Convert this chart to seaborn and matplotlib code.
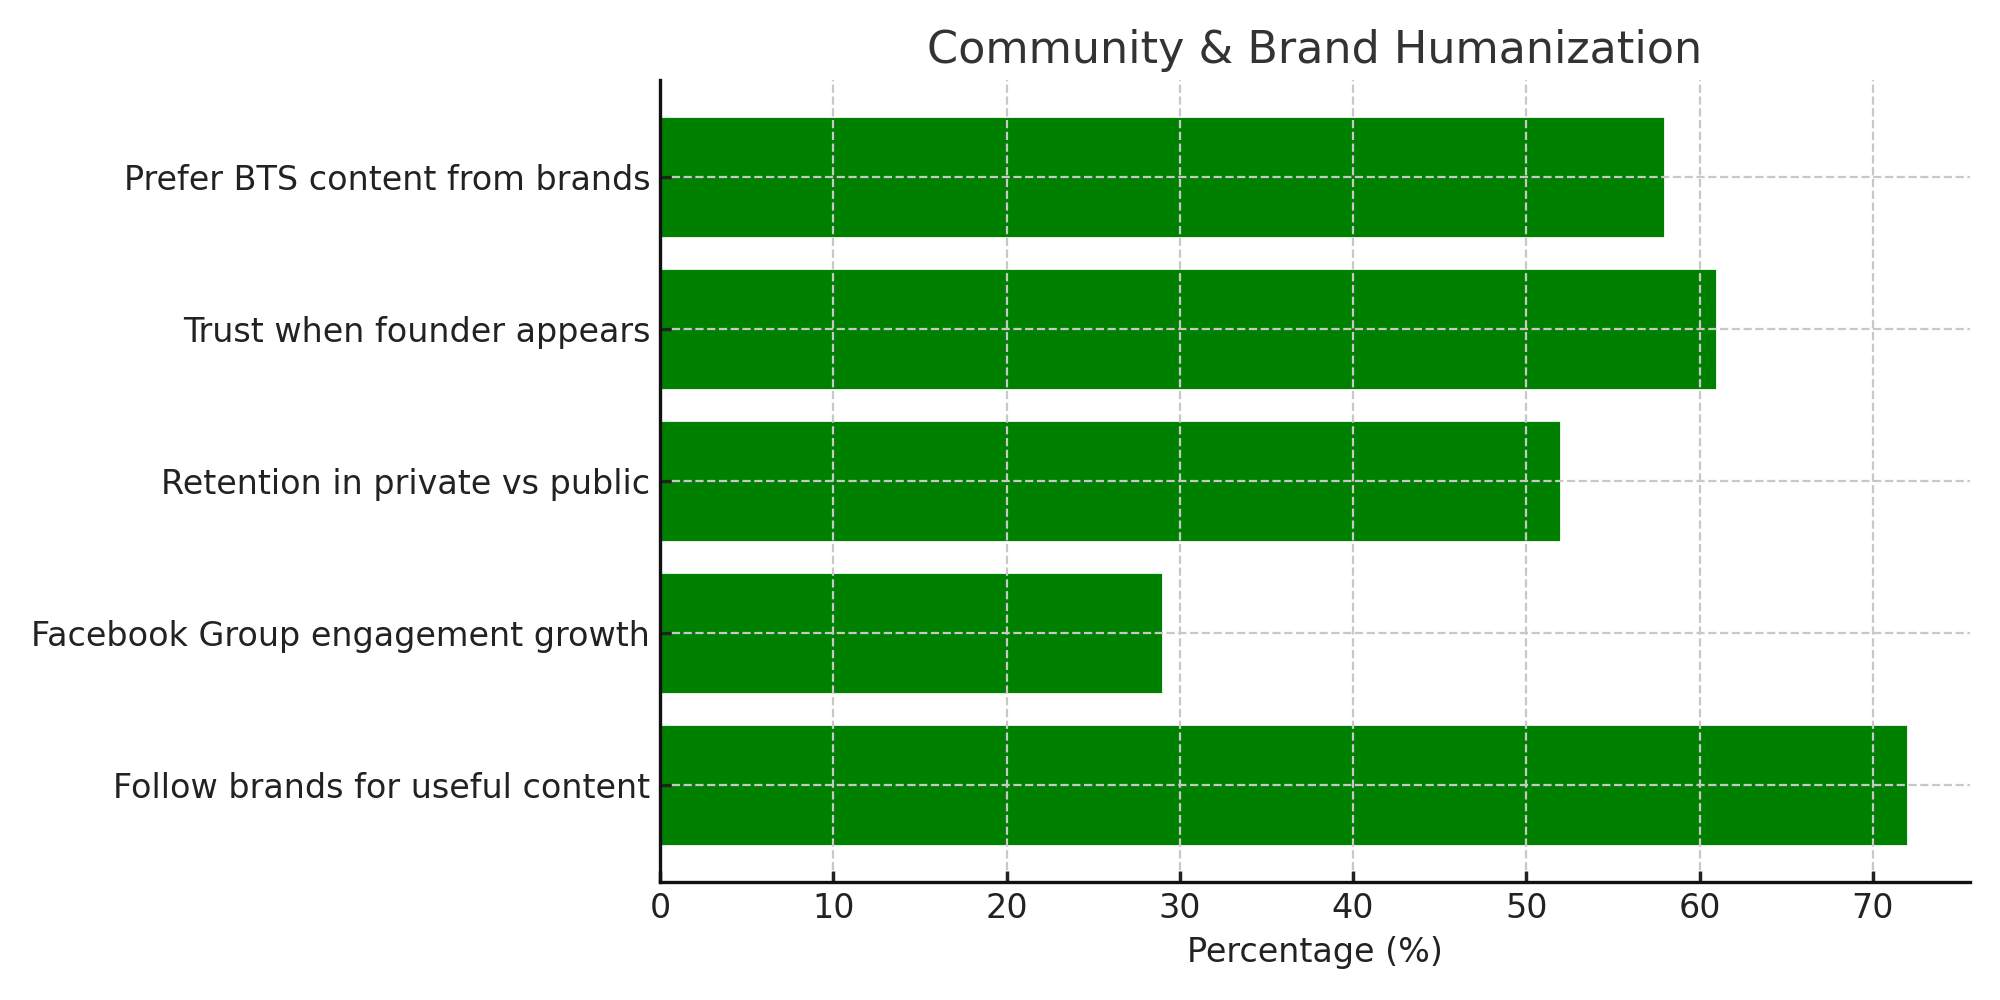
import numpy as np
import pandas as pd
import seaborn as sns
import matplotlib
matplotlib.use("Agg")
import matplotlib.pyplot as plt

# Data (top to bottom as shown)
categories = [
    "Prefer BTS content from brands",
    "Trust when founder appears",
    "Retention in private vs public",
    "Facebook Group engagement growth",
    "Follow brands for useful content",
]
values = [58, 61, 52, 29, 72]

df = pd.DataFrame({"metric": categories, "pct": values})

sns.set_theme(style="whitegrid")
plt.rcParams['font.family'] = ['DejaVu Sans']

fig, ax = plt.subplots(figsize=(10, 5), dpi=200)
sns.barplot(data=df, x="pct", y="metric", color="green", saturation=1,
            width=0.8, ax=ax, orient="h")

n = len(categories)
ax.set_ylim(n - 1 + 0.64, -0.64)
ax.set_xlim(0, max(values) * 1.05)

ax.set_title("Community & Brand Humanization", fontsize=16, color="#333333")
ax.set_xlabel("Percentage (%)", fontsize=12, color="#222222")
ax.set_ylabel("")
ax.tick_params(axis="both", labelsize=12, direction="in", length=4,
               colors="#222222", left=True, bottom=True)
ax.grid(True, linestyle="--", color="#c8c8c8", linewidth=0.8)
ax.set_axisbelow(False)
for s in ["top", "right"]:
    ax.spines[s].set_visible(False)
for s in ["left", "bottom"]:
    ax.spines[s].set_visible(True)
    ax.spines[s].set_color("#111111")
    ax.spines[s].set_linewidth(1.2)
    ax.spines[s].set_zorder(5)
ax.set_facecolor("white")

plt.subplots_adjust(left=0.33, right=0.985, top=0.92, bottom=0.118)
fig.savefig("out.png", dpi=200)
